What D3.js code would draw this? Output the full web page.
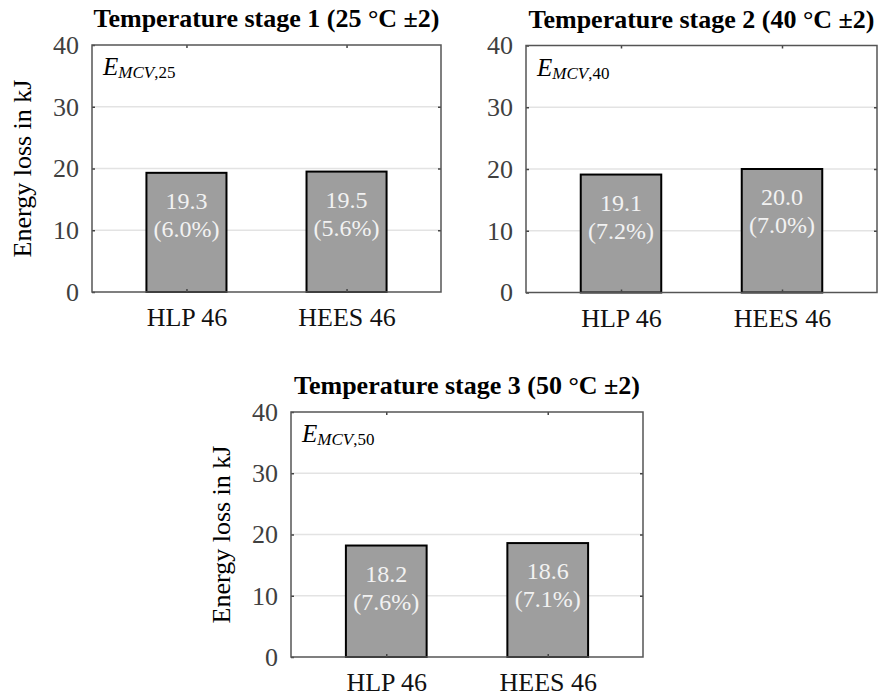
<!DOCTYPE html>
<html>
<head>
<meta charset="utf-8">
<script src="https://cdn.jsdelivr.net/npm/d3@7"></script>
<style>
  body { margin: 0; background: #fff; }
</style>
</head>
<body>
<div id="chart"></div>
<script>
// data
var categories = ["HLP 46", "HEES 46"];
var stageTitles = ["Temperature stage 1 (25 °C ±2)",
                   "Temperature stage 2 (40 °C ±2)",
                   "Temperature stage 3 (50 °C ±2)"];
var stageTemps = ["25", "40", "50"];
var energyLoss = [[19.3, 19.5], [19.1, 20.0], [18.2, 18.6]];
var lossShare = [["6.0%", "5.6%"], ["7.2%", "7.0%"], ["7.6%", "7.1%"]];
var yTicks = [0, 10, 20, 30, 40];
var gridTicks = [10, 20, 30];

var serif = "'Times New Roman', Times, serif";

// panel placement in the page
var panels = [
  {left: 92,  top: 45,  width: 349, height: 247, ylabel: true},
  {left: 526, top: 45.5, width: 351, height: 247, ylabel: false},
  {left: 291, top: 412, width: 352, height: 245, ylabel: true}
];

var svg = d3.select("#chart").append("svg")
    .attr("width", 882)
    .attr("height", 699)
    .style("font-family", serif);

panels.forEach(function(p, i) {
  var x = d3.scaleLinear().domain([0.41, 2.59]).range([0, p.width]);
  var y = d3.scaleLinear().domain([0, 40]).range([p.height, 0]);
  var barW = x(1.5) - x(1);

  var g = svg.append("g")
      .attr("transform", "translate(" + p.left + "," + p.top + ")");

  // grid
  g.selectAll(".grid").data(gridTicks).enter().append("line")
      .attr("x1", 0).attr("x2", p.width)
      .attr("y1", function(d) { return y(d); })
      .attr("y2", function(d) { return y(d); })
      .attr("stroke", "#e3e3e3")
      .attr("stroke-width", 1.5);

  // bars
  g.selectAll(".bar").data(energyLoss[i]).enter().append("rect")
      .attr("x", function(d, j) { return x(j + 1) - barW / 2; })
      .attr("y", function(d) { return y(d); })
      .attr("width", barW)
      .attr("height", function(d) { return y(0) - y(d); })
      .attr("fill", "#9e9e9e")
      .attr("stroke", "#000")
      .attr("stroke-width", 2);

  // bar labels
  var lab = g.selectAll(".lab").data(energyLoss[i]).enter().append("text")
      .attr("text-anchor", "middle")
      .attr("fill", "#f2f2f2")
      .style("font-family", serif)
      .attr("font-size", 24);
  lab.append("tspan")
      .attr("x", function(d, j) { return x(j + 1); })
      .attr("y", function(d) { return y(d) + 36; })
      .text(function(d) { return d.toFixed(1); });
  lab.append("tspan")
      .attr("x", function(d, j) { return x(j + 1); })
      .attr("y", function(d) { return y(d) + 64; })
      .text(function(d, j) { return "(" + lossShare[i][j] + ")"; });

  // axes with inward ticks
  var yAxis = d3.axisLeft(y).tickValues(yTicks).tickSize(-3).tickPadding(13);
  var yAxisR = d3.axisRight(y).tickValues(gridTicks).tickSize(-3).tickFormat("");
  var xAxis = d3.axisBottom(x).tickValues([1, 2]).tickSize(-3).tickPadding(16)
      .tickFormat(function(d) { return categories[d - 1]; });
  var xAxisT = d3.axisTop(x).tickValues([1, 2]).tickSize(-3).tickFormat("");

  var yG = g.append("g").call(yAxis);
  var xG = g.append("g").attr("transform", "translate(0," + p.height + ")").call(xAxis);
  var rG = g.append("g").attr("transform", "translate(" + p.width + ",0)").call(yAxisR);
  var tG = g.append("g").call(xAxisT);
  [yG, xG, rG, tG].forEach(function(a) {
    a.attr("font-family", null).attr("font-size", 26);
    a.select(".domain").remove();
    a.selectAll(".tick line").attr("stroke", "#444").attr("stroke-width", 1.5);
    a.selectAll("text").style("font-family", serif);
  });
  yG.selectAll("text").attr("fill", "#404040");
  xG.selectAll("text").attr("fill", "#111");

  // frame
  g.append("rect")
      .attr("width", p.width).attr("height", p.height)
      .attr("fill", "none")
      .attr("stroke", "#555")
      .attr("stroke-width", 1.5);

  // title
  g.append("text")
      .attr("x", p.width / 2).attr("y", -18)
      .attr("text-anchor", "middle")
      .attr("font-size", 26)
      .attr("font-weight", "bold")
      .text(stageTitles[i]);

  // symbol label
  var sym = g.append("text")
      .attr("x", 11).attr("y", 30)
      .attr("font-size", 25)
      .attr("fill", "#000");
  sym.append("tspan").attr("font-style", "italic").text("E");
  sym.append("tspan").attr("dy", 3).attr("font-size", 17)
      .attr("font-style", "italic").text("MCV");
  sym.append("tspan").attr("font-size", 17).text("," + stageTemps[i]);

  if (p.ylabel) {
    g.append("text")
        .attr("transform", "translate(-61," + (p.height / 2) + ") rotate(-90)")
        .attr("text-anchor", "middle")
        .attr("font-size", 26)
        .attr("fill", "#000")
        .text("Energy loss in kJ");
  }
});
</script>
</body>
</html>
